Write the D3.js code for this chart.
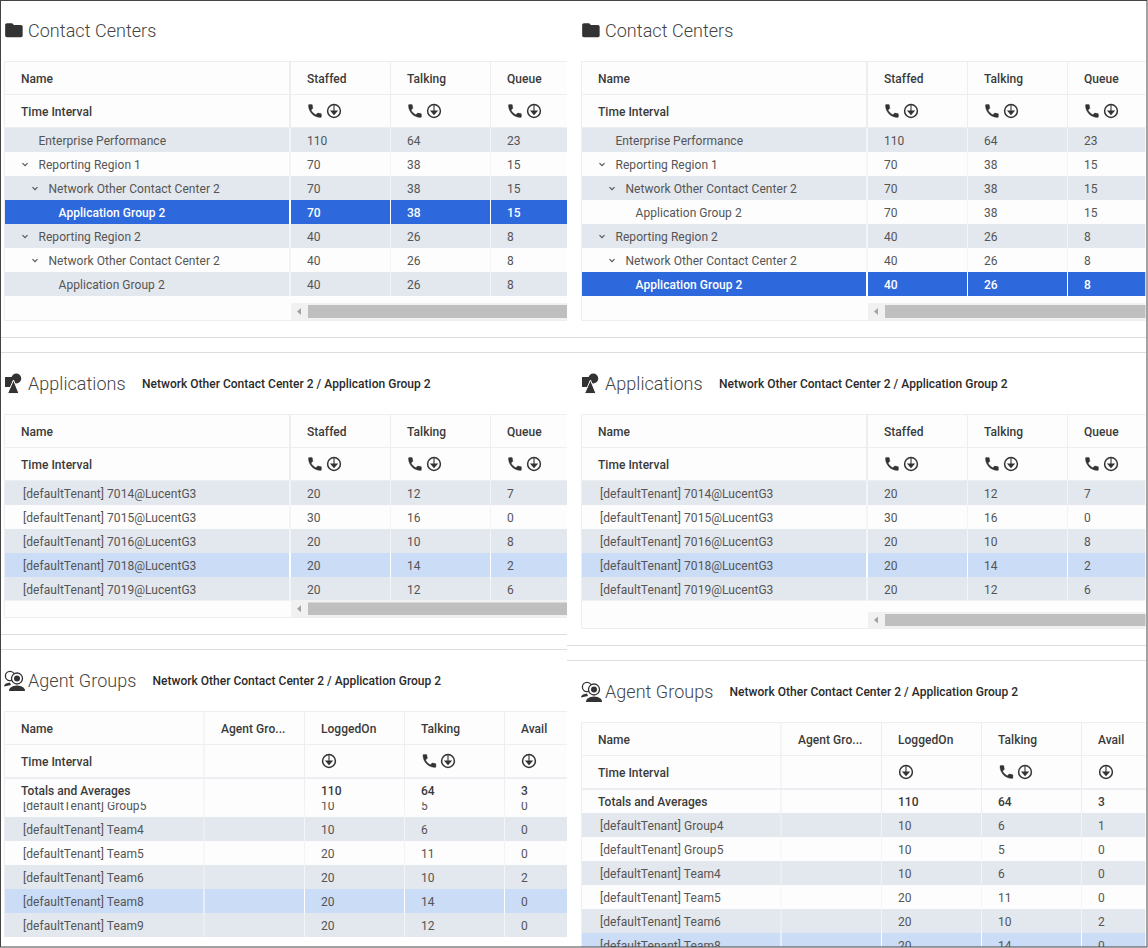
<!DOCTYPE html>
<html>
<head>
<meta charset="utf-8">
<script src="https://cdn.jsdelivr.net/npm/d3@7/dist/d3.min.js"></script>
<style>
html,body{margin:0;padding:0;background:#fff;overflow:hidden}
svg{display:block}
text{font-family:Roboto,sans-serif;letter-spacing:.04px}
text.bodytext{letter-spacing:.05px}
</style>
</head>
<body>
<svg id="c" width="1148" height="948"></svg>
<script>
// ---------- data ----------
const sectionTitles = ["Contact Centers", "Applications", "Agent Groups"];
const breadcrumb = "Network Other Contact Center 2 / Application Group 2";
const timeLabel = "Time Interval";
const totalsLabel = "Totals and Averages";

const queueHeaders = ["Name", "Staffed", "Talking", "Queue"];
const agentHeaders = ["Name", "Agent Gro...", "LoggedOn", "Talking", "Avail"];

const centerNames = ["Enterprise Performance", "Reporting Region 1", "Network Other Contact Center 2", "Application Group 2", "Reporting Region 2", "Network Other Contact Center 2", "Application Group 2"];
const centerLevels = [0, 0, 1, 2, 0, 1, 2];
const centerExpanded = [false, true, true, false, true, true, false];
const centerStaffed = [110, 70, 70, 70, 40, 40, 40];
const centerTalking = [64, 38, 38, 38, 26, 26, 26];
const centerQueue = [23, 15, 15, 15, 8, 8, 8];

const appNames = ["[defaultTenant] 7014@LucentG3", "[defaultTenant] 7015@LucentG3", "[defaultTenant] 7016@LucentG3", "[defaultTenant] 7018@LucentG3", "[defaultTenant] 7019@LucentG3"];
const appStaffed = [20, 30, 20, 20, 20];
const appTalking = [12, 16, 10, 14, 12];
const appQueue = [7, 0, 8, 2, 6];

const groupNames = ["[defaultTenant] Group4", "[defaultTenant] Group5", "[defaultTenant] Team4", "[defaultTenant] Team5", "[defaultTenant] Team6", "[defaultTenant] Team8", "[defaultTenant] Team9"];
const groupLogged = [10, 10, 10, 20, 20, 20, 20];
const groupTalking = [6, 5, 6, 11, 10, 14, 12];
const groupAvail = [1, 0, 0, 0, 2, 0, 0];
const groupTotals = [110, 64, 3];

// ---------- styling ----------
const BAND = "#e3e7ee", PLAIN = "#fdfdfd", SEL = "#2d68dc", HILITE = "#cbdcf6", LINE = "#eceef2", RULE = "#dedede";
const TEXT = "#555", HEAD = "#3a3a3a", ICON = "#333";
const ROW_H = 24, HEAD_H = 33;
const PHONE = "M6.62 10.79c1.44 2.83 3.76 5.14 6.59 6.59l2.2-2.2c.27-.27.67-.36 1.02-.24 1.12.37 2.33.57 3.57.57.55 0 1 .45 1 1V20c0 .55-.45 1-1 1-9.39 0-17-7.61-17-17 0-.55.45-1 1-1h3.5c.55 0 1 .45 1 1 0 1.25.2 2.45.57 3.57.11.35.03.74-.25 1.02l-2.2 2.2z";
const FOLDER = "M10 4H4c-1.1 0-2 .9-2 2v12c0 1.1.9 2 2 2h16c1.1 0 2-.9 2-2V8c0-1.1-.9-2-2-2h-8l-2-2z";

const svg = d3.select("#c");
const defs = svg.append("defs");

// panel layouts
const leftDx = 0, rightDx = 577;
const queueEdgesOf = r => [4.5, 291, 391, 491, r];
const agentEdgesOf = r => [4.5, 204.5, 305, 405, 505, r];
const queueTextX = d3.scaleOrdinal().domain([0, 1, 2, 3]).range([21, 307, 407, 507]);
const agentTextX = d3.scaleOrdinal().domain([0, 1, 2, 3, 4]).range([21, 221, 321, 421, 521]);

function rows(names, cols, extra) {
  return names.map((n, i) => Object.assign({name: n, vals: cols.map(c => c[i]), i}, extra ? extra(i) : {}));
}

function phone(g, x, cy) {
  g.append("path").attr("d", PHONE).attr("fill", ICON).attr("stroke", ICON).attr("stroke-width", .5)
    .attr("transform", `translate(${x - 2.2},${cy - 8.7}) scale(0.72)`);
}
function clock(g, cx, cy) {
  g.append("circle").attr("cx", cx).attr("cy", cy).attr("r", 6.4).attr("fill", "none").attr("stroke", ICON).attr("stroke-width", 1.5);
  g.append("path").attr("d", `M${cx},${cy - 6}V${cy + 3.5}M${cx - 3},${cy}L${cx},${cy + 3.5}L${cx + 3},${cy}Z`).attr("fill", ICON).attr("stroke", ICON).attr("stroke-width", 1.1);
}

function drawTable(o) {
  const g = svg.append("g").attr("transform", `translate(${o.dx},0)`);
  const edges = o.edges, textX = o.textX;
  const right = edges[edges.length - 1];
  const y = d3.scaleLinear().domain([0, 1]).range([o.bodyStart, o.bodyStart + ROW_H]);
  const clipId = "clip" + o.id;
  defs.append("clipPath").attr("id", clipId).append("rect")
    .attr("x", 0).attr("width", right).attr("y", o.bodyTop).attr("height", o.bodyBottom - o.bodyTop);

  // table background and header
  const fullH = o.tableBottom - o.top;
  g.append("rect").attr("x", edges[0]).attr("y", o.top).attr("width", right - edges[0]).attr("height", fullH).attr("fill", PLAIN);
  const borders = [[edges[0], o.top, right, o.top], [edges[0], o.top + HEAD_H, right, o.top + HEAD_H], [edges[0], o.top + 2 * HEAD_H, right, o.top + 2 * HEAD_H], [edges[0], o.top, edges[0], o.tableBottom]];
  if (o.bottomLine) borders.push([edges[0], o.tableBottom, right, o.tableBottom]);
  g.selectAll("line.b").data(borders).join("line").attr("class", "b")
    .attr("x1", d => d[0]).attr("y1", d => d[1] + .5).attr("x2", d => d[2]).attr("y2", d => d[3] + .5)
    .attr("stroke", LINE).attr("stroke-width", 1.2);

  // header labels
  g.selectAll("text.h").data(o.headers).join("text").attr("class", "h")
    .attr("x", (d, i) => textX(i)).attr("y", o.top + 21.5).text(d => d)
    .attr("font-size", 12).attr("font-weight", 500).attr("fill", HEAD);
  g.append("text").attr("x", textX(0)).attr("y", o.top + 54.5).text(timeLabel)
    .attr("font-size", 12).attr("font-weight", 500).attr("fill", HEAD);

  // header icons
  o.icons.forEach(ic => {
    const ig = g.append("g");
    if (ic.phone !== undefined) phone(ig, ic.phone, o.top + 50);
    clock(ig, ic.clock, o.top + 50);
  });

  // totals row
  if (o.totals) {
    const tTop = o.top + 2 * HEAD_H;
    g.append("rect").attr("x", edges[0]).attr("y", tTop).attr("width", right - edges[0]).attr("height", 2).attr("fill", LINE);
    g.append("line").attr("x1", edges[0]).attr("x2", right).attr("y1", o.bodyTop + .5).attr("y2", o.bodyTop + .5).attr("stroke", LINE);
    g.append("text").attr("x", textX(0)).attr("y", tTop + 17.5).text(totalsLabel)
      .attr("font-size", 12).attr("font-weight", 500).attr("fill", HEAD);
    g.selectAll("text.t").data(o.totals).join("text").attr("class", "t")
      .attr("x", (d, i) => textX(i + 2)).attr("y", tTop + 17.5).text(d => d)
      .attr("font-size", 12).attr("font-weight", 500).attr("fill", HEAD);
  }

  // body rows: a row scrolled fully out of the viewport is not drawn
  const visible = o.rows.filter(d => y(d.i) + ROW_H > o.bodyTop && y(d.i) < o.bodyBottom);
  const body = g.append("g").attr("clip-path", `url(#${clipId})`);
  const row = body.selectAll("g.r").data(visible).join("g").attr("class", "r")
    .attr("transform", d => `translate(0,${y(d.i)})`);
  const fillOf = d => d.i === o.selected ? SEL : d.i === o.hilite ? HILITE : d.i % 2 === 0 ? BAND : PLAIN;
  const colors = d => d.i === o.selected ? "#fff" : TEXT;
  row.append("rect").attr("x", edges[0] + .5).attr("width", right - edges[0] - .5).attr("height", ROW_H + .4).attr("fill", fillOf);
  // cell separators
  row.selectAll("rect.s").data(d => edges.slice(1, -1).map((e, k) => ({e, k, d}))).join("rect").attr("class", "s")
    .attr("x", c => c.e - (c.k === 0 && o.wideFirst ? 2 : 1)).attr("width", c => c.k === 0 && o.wideFirst ? 2 : 1).attr("height", ROW_H + .4)
    .attr("fill", c => (c.d.i === o.selected || c.d.i === o.hilite) ? "#fff" : "#f3f4f7");
  row.append("text").attr("class", "bodytext").attr("x", d => o.nameX(d)).attr("y", 16.5).text(d => d.name)
    .attr("font-size", 12).attr("font-weight", d => d.i === o.selected ? 500 : 400).attr("fill", colors);
  row.filter(d => d.expanded).append("path")
    .attr("d", d => { const cx = o.nameX(d) - 13.5; return `M${cx - 2.5},11.2L${cx},13.7L${cx + 2.5},11.2`; })
    .attr("fill", "none").attr("stroke", "#555").attr("stroke-width", 1.2);
  row.selectAll("text.v").data(d => d.vals.map((v, k) => ({v, k, d}))).join("text").attr("class", "v bodytext")
    .attr("x", c => textX(c.k + o.valueCol)).attr("y", 16.5).text(c => c.v)
    .attr("font-size", 12).attr("font-weight", c => c.d.i === o.selected ? 500 : 400).attr("fill", c => colors(c.d));

  // column separators in header area
  edges.slice(1, -1).forEach((e, k) => {
    const w = k === 0 && o.wideFirst ? 2 : 1;
    g.append("rect").attr("x", e - w).attr("width", w).attr("y", o.top).attr("height", 2 * HEAD_H + (o.totals ? 25 : 0)).attr("fill", LINE);
  });
  // scrollbar
  if (o.scroll) {
    const s = o.scroll;
    g.append("rect").attr("x", edges[1]).attr("y", s.top).attr("width", right - edges[1]).attr("height", s.bottom - s.top).attr("fill", "#f1f1f1");
    g.append("rect").attr("x", edges[1] + 17).attr("y", s.top + 2).attr("width", right - edges[1] - 17).attr("height", s.bottom - s.top - 4).attr("fill", "#bfbfbf");
    const ay = (s.top + s.bottom) / 2;
    g.append("path").attr("d", `M${edges[1] + 6},${ay}l4,-3.5v7z`).attr("fill", "#a3a3a3");
  }
}

// section titles and their icons
function title(dx, label, iconFn, baseline, crumbX) {
  const g = svg.append("g").attr("transform", `translate(${dx},0)`);
  iconFn(g, baseline);
  g.append("text").attr("x", 28).attr("y", baseline).text(label).attr("font-size", 18).attr("font-weight", 300).attr("fill", "#444");
  if (crumbX) {
    g.append("text").attr("x", crumbX).attr("y", baseline - 2).text(breadcrumb).attr("font-size", 12).attr("font-weight", 500).attr("fill", "#2a2a2a").style("letter-spacing", ".015px");
  }
}
const folderIcon = (g, b) => g.append("path").attr("d", FOLDER).attr("fill", ICON).attr("transform", `translate(3.4,${b - 17.2}) scale(0.875)`);
const appIcon = (g, b) => {
  g.append("rect").attr("x", 5).attr("y", b - 13).attr("width", 7).attr("height", 10).attr("fill", ICON);
  g.append("circle").attr("cx", 16.3).attr("cy", b - 11.5).attr("r", 4.9).attr("fill", ICON);
  g.append("path").attr("d", `M13.5,${b - 10}L19,${b + 3.6}H7.5Z`).attr("fill", ICON).attr("stroke", "#fff").attr("stroke-width", 1);
};
const agentIcon = (g, b) => {
  g.append("circle").attr("cx", 10).attr("cy", b - 11).attr("r", 4.6).attr("fill", "none").attr("stroke", ICON).attr("stroke-width", 1.3);
  g.append("circle").attr("cx", 17).attr("cy", b - 8.5).attr("r", 5.5).attr("fill", "#fff").attr("stroke", ICON).attr("stroke-width", 1.3);
  g.append("circle").attr("cx", 17).attr("cy", b - 8.5).attr("r", 3).attr("fill", ICON);
  g.append("path").attr("d", `M4,${b - 0.5}c0.5,-3 3,-3.5 6,-4l1,2.5z`).attr("fill", ICON);
  g.append("path").attr("d", `M9,${b + 4}c0,-3.5 3,-5 8,-5.5c5,.5 8,2 8,5.5z`).attr("fill", ICON);
};

[leftDx, rightDx].forEach((dx, p) => {
  const rightEdge = p ? 568.5 : 567;
  title(dx, sectionTitles[0], folderIcon, 37, 0);
  title(dx, sectionTitles[1], appIcon, 390, 142);
  title(dx, sectionTitles[2], agentIcon, p ? 698 : 687, 152.5);

  const queueIcons = [[308.5, 334], [408.5, 434], [508.5, 534]].map(a => ({phone: a[0], clock: a[1]}));
  drawTable({
    id: "cc" + p, dx, top: 61, edges: queueEdgesOf(rightEdge), textX: queueTextX, headers: queueHeaders, icons: queueIcons, wideFirst: true, valueCol: 1,
    bodyStart: 128, bodyTop: 128, bodyBottom: 296, tableBottom: 320, bottomLine: true,
    rows: rows(centerNames, [centerStaffed, centerTalking, centerQueue], i => ({level: centerLevels[i], expanded: centerExpanded[i]})),
    nameX: d => 38.5 + d.level * 10, selected: p ? 6 : 3,
    scroll: {top: 303, bottom: 320}
  });
  drawTable({
    id: "ap" + p, dx, top: 414, edges: queueEdgesOf(rightEdge), textX: queueTextX, headers: queueHeaders, icons: queueIcons, wideFirst: true, valueCol: 1,
    bodyStart: 481, bodyTop: 481, bodyBottom: 600.5, tableBottom: p ? 628 : 617, bottomLine: true,
    rows: rows(appNames, [appStaffed, appTalking, appQueue]),
    nameX: () => 23, hilite: 3,
    scroll: p ? {top: 612, bottom: 628} : {top: 600.5, bottom: 617}
  });
  drawTable({
    id: "ag" + p, dx, top: p ? 722 : 711, edges: agentEdgesOf(rightEdge), textX: agentTextX, headers: agentHeaders, wideFirst: false, valueCol: 2,
    icons: [{clock: 329}, {phone: 423, clock: 448}, {clock: 529}],
    bodyStart: p ? 813 : 769, bodyTop: p ? 813 : 802, bodyBottom: p ? 947 : 937, tableBottom: p ? 947 : 937,
    rows: rows(groupNames, [groupLogged, groupTalking, groupAvail]),
    nameX: () => 23, hilite: 5, totals: groupTotals
  });
});

// horizontal rules and window frame
const rules = [[1, 1146, 337.5], [1, 1146, 352.5], [1, 567, 634.5], [1, 567, 649.5], [567, 1146, 645.5], [567, 1146, 660.5]];
svg.selectAll("line.rule").data(rules).join("line").attr("class", "rule")
  .attr("x1", d => d[0]).attr("x2", d => d[1]).attr("y1", d => d[2]).attr("y2", d => d[2]).attr("stroke", RULE);
svg.append("rect").attr("x", .5).attr("y", .5).attr("width", 1146.5).attr("height", 946.5).attr("fill", "none").attr("stroke", "#444");
</script>
</body>
</html>
